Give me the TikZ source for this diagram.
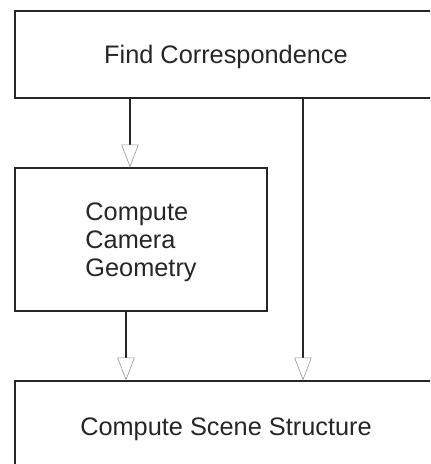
\documentclass[tikz,border=0pt]{standalone}
\usepackage{fontspec}
\setmainfont{Liberation Sans}
\usetikzlibrary{arrows.meta}
\begin{document}
\begin{tikzpicture}[x=0.75pt,y=-0.75pt,
  box/.style={draw=black!85, line width=1.1pt, inner sep=0pt, text=black!85,
    text depth=0pt, font=\fontsize{19}{21}\selectfont},
  arr/.style={draw=black!85, line width=1.1pt,
    -{Triangle[open, length=17pt, width=13pt, line width=0.4pt, color=black!45]}}]
\useasboundingbox (0,0) rectangle (430,464);
\clip (0,0) rectangle (430,464);
\node[box, minimum width=316.5pt, minimum height=65.25pt] (fc) at (226,54.5) {Find Correspondence};
\node[box, minimum width=189pt, minimum height=107.25pt, align=left] (cg) at (141,239.5) {Compute\\Camera\\Geometry};
\node[box, minimum width=316.5pt, minimum height=69pt] (ss) at (226,427) {Compute Scene Structure};
\coordinate (a1) at (130,0);
\coordinate (a2) at (126,0);
\coordinate (a3) at (303,0);
\draw[arr] (fc.south -| a1) -- (cg.north -| a1);
\draw[arr] (cg.south -| a2) -- (ss.north -| a2);
\draw[arr] (fc.south -| a3) -- (ss.north -| a3);
\end{tikzpicture}
\end{document}
